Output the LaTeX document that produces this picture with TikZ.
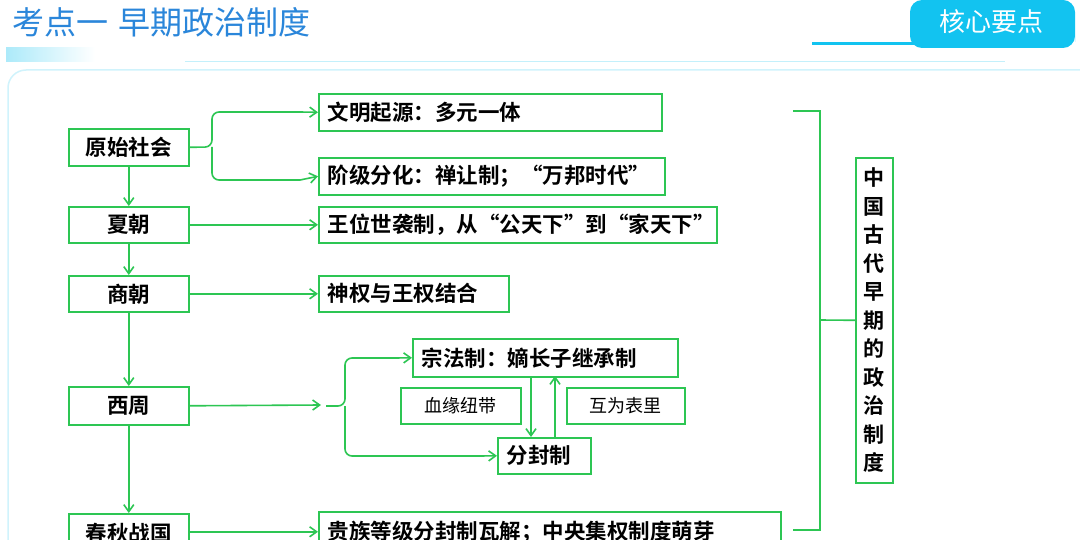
\documentclass[tikz,border=0pt]{standalone}
\usepackage{fontspec}
\setmainfont{Noto Sans CJK SC}[BoldFont={Noto Sans CJK SC Bold}]
\usetikzlibrary{arrows.meta}
\definecolor{gr}{HTML}{2DC653}
\definecolor{ttl}{HTML}{2A86DA}
\definecolor{cy}{HTML}{12C3F0}
\tikzset{
 bx/.style={draw=gr,line width=1.6pt,fill=white,font=\fontsize{21.5}{24}\selectfont\bfseries,inner sep=0pt,anchor=north west},
 rb/.style={bx,inner xsep=9pt,align=left},
 lb/.style={draw=gr,line width=1.6pt,fill=white,font=\fontsize{18}{20}\selectfont,inner sep=0pt,anchor=north west},
 ar/.style={draw=gr,line width=1.6pt,-{Straight Barb[length=7pt,width=10pt]}},
 ln/.style={draw=gr,line width=1.6pt,rounded corners=7pt}
}
\newcommand{\bxn}[6]{\node[#1,minimum width=#4pt,minimum height=#5pt] (#2) at (#3) {#6};}
\newcommand{\rbn}[5]{\node[rb,minimum width=#3pt,text width=#3pt-18pt,minimum height=#4pt] (#1) at (#2) {#5};}
\begin{document}
\begin{tikzpicture}[x=1pt,y=-1pt]
\useasboundingbox (0,0) rectangle (1080,540);
\fill[white] (0,0) rectangle (1080,540);
% header
\node[anchor=west,text=ttl,font=\fontsize{32}{34}\selectfont,inner sep=0pt] (title) at (12,22) {考点一\hspace*{10pt}早期政治制度};
\shade[left color=cy!35,right color=white] (6,48) rectangle (95,62);
\draw[cy!25,line width=1pt] (185,62) -- (1005,62);
\draw[cy,line width=3pt] (812,44) -- (915,44);
\fill[cy,rounded corners=12pt] (910,48) -- (910,0) -- (1075,0) -- (1075,30) -- (1075,48) -- cycle;
\node[text=white,font=\fontsize{26}{28}\selectfont] (tab) at (991,22) {核心要点};
\draw[cy!20,line width=1.5pt,rounded corners=18pt] (8,540) -- (8,70) -- (1080,70);
% left column
\bxn{bx}{a}{68,128}{120}{37}{原始社会}
\bxn{bx}{b}{68,206}{120}{36}{夏朝}
\bxn{bx}{c}{68,275}{120}{36}{商朝}
\bxn{bx}{d}{68,386}{120}{38}{西周}
\bxn{bx}{e}{68,513}{120}{40}{春秋战国}
% right boxes
\rbn{r1}{318,93}{343}{37}{文明起源：多元一体}
\rbn{r2}{318,157}{346}{37}{阶级分化：禅让制；“万邦时代”}
\rbn{r3}{318,206}{398}{36}{王位世袭制，从“公天下”到“家天下”}
\rbn{r4}{318,275}{190}{36}{神权与王权结合}
\rbn{zf}{412,338}{265}{38}{宗法制：嫡长子继承制}
\rbn{ff}{497,437}{93}{36}{分封制}
\bxn{lb}{xy}{400,387}{120}{36}{血缘纽带}
\bxn{lb}{hw}{566,387}{118}{36}{互为表里}
\rbn{r5}{318,511}{462}{40}{贵族等级分封制瓦解；中央集权制度萌芽}
\node[draw=gr,line width=1.6pt,anchor=north west,minimum width=37pt,minimum height=325pt,inner sep=0pt,font=\fontsize{21}{28.5}\selectfont\bfseries,align=center] (zg) at (855,157) {中\\国\\古\\代\\早\\期\\的\\政\\治\\制\\度};
% vertical arrows
\draw[ar] (a) -- (b);
\draw[ar] (b) -- (c);
\draw[ar] (c) -- (d);
\draw[ar] (d) -- (e);
% horizontal
\draw[ln] (a.east) -- (212,147) -- (212,112) -- (300,112);
\draw[ar] (300,112) -- (r1.west);
\draw[ln] (212,147) -- (212,180) -- (300,180);
\draw[ar] (300,180) -- (r2.west);
\draw[ar] (b.east) -- (r3.west);
\draw[ar] (c.east) -- (r4.west);
\draw[ar] (d.east) -- (321,405) coordinate (dt);
\draw[ar] (e.east |- r5.west) -- (r5.west);
% zhou brace
\coordinate (tip) at (326,406);
\draw[ln] (tip) -- (345,406) -- (345,358) -- (395,358);
\draw[ar] (395,358) -- (zf.west);
\draw[ln] (345,406) -- (345,456) -- (480,456);
\draw[ar] (480,456) -- (ff.west);
\draw[ar] (531,376) -- (531,437);
\draw[ar] (555,437) -- (555,376);
% right bracket
\draw[ln,rounded corners=0pt] (793,111) -- (820,111) -- (820,530) -- (793,530);
\draw[ln] (820,320) -- (zg.west);
\end{tikzpicture}
\end{document}
